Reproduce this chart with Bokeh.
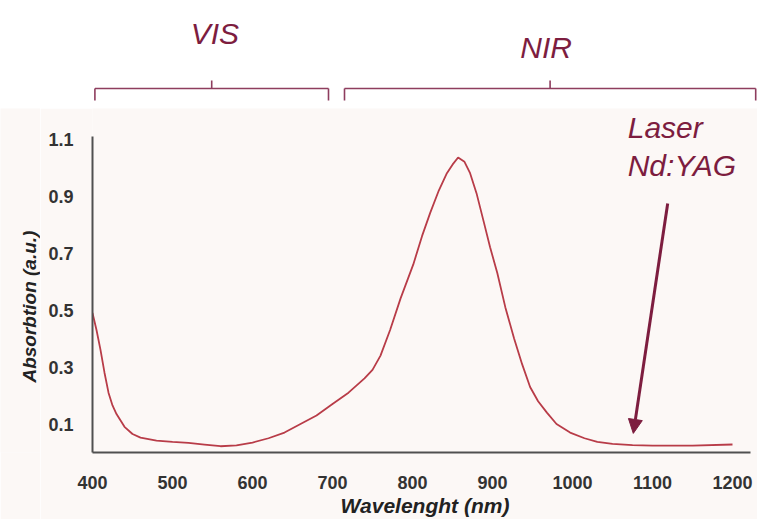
import math
from bokeh.plotting import figure
from bokeh.models import Range1d, FixedTicker, Arrow, NormalHead
from bokeh.layouts import column, row
from bokeh.core.properties import value
from bokeh.embed import file_html
from bokeh.resources import INLINE

# ---- data ----
wavelength = [400, 405, 410, 415, 420, 425, 430, 440, 450, 460, 480, 500, 520, 540, 560, 580, 600,
              620, 640, 660, 680, 700, 720, 740, 750, 760, 772, 785, 801, 812, 822, 833, 843, 850,
              857, 865, 872, 880, 889, 897, 906, 916, 927, 937, 947, 957, 968, 980, 997, 1015, 1031,
              1050, 1075, 1100, 1150, 1200]
absorption = [0.49, 0.43, 0.36, 0.28, 0.21, 0.165, 0.135, 0.09, 0.065, 0.052, 0.042, 0.037, 0.034,
              0.028, 0.022, 0.025, 0.035, 0.05, 0.07, 0.10, 0.13, 0.17, 0.21, 0.26, 0.29, 0.34, 0.43,
              0.54, 0.66, 0.76, 0.84, 0.92, 0.98, 1.01, 1.035, 1.02, 0.98, 0.91, 0.81, 0.72, 0.63,
              0.51, 0.40, 0.31, 0.23, 0.18, 0.14, 0.10, 0.07, 0.05, 0.037, 0.03, 0.026, 0.024, 0.024,
              0.028]
x_ticks = [400, 500, 600, 700, 800, 900, 1000, 1100, 1200]
y_ticks = [0.1, 0.3, 0.5, 0.7, 0.9, 1.1]
regions = ["VIS", "NIR"]
region_start = [403, 715]
region_end = [695, 1229]
laser_nm = 1076
laser_label = ["Laser", "Nd:YAG"]
x_title = "Wavelenght (nm)"
y_title = "Absorbtion (a.u.)"

FONT = "Liberation Sans"
MAROON = "#7d1d3f"
BRACKET = "#8e3d5e"
PINK = "#fcf8f6"

W = 757
H = 519
TOP_H = 108
MAIN_H = H - TOP_H
TITLE_W = 40
LEFT = 92
BOTTOM = 67
PX_PER_NM = 0.8
PX_PER_UNIT = 285.0

x_end = 400 + (W - LEFT) / PX_PER_NM
y_end = (MAIN_H - BOTTOM) / PX_PER_UNIT
x_range = Range1d(400, x_end)
y_range = Range1d(0, y_end)

# ---- top panel with region brackets ----
top = figure(width=W, height=TOP_H, output_backend="svg", toolbar_location=None,
             x_range=x_range, y_range=Range1d(TOP_H, 0),
             min_border_left=LEFT, min_border_right=0, min_border_top=0, min_border_bottom=0)
top.axis.visible = False
top.grid.visible = False
top.outline_line_color = None
top.background_fill_color = "white"
top.border_fill_color = "white"

yb = 88
mids = [(s + e) / 2 for s, e in zip(region_start, region_end)]
top.segment(x0=region_start, y0=[yb] * 2, x1=region_end, y1=[yb] * 2, line_color=BRACKET, line_width=1.6)
top.segment(x0=region_start, y0=[yb] * 2, x1=region_start, y1=[yb + 12] * 2, line_color=BRACKET, line_width=1.6)
top.segment(x0=region_end, y0=[yb] * 2, x1=region_end, y1=[yb + 12] * 2, line_color=BRACKET, line_width=1.6)
top.segment(x0=mids, y0=[yb] * 2, x1=mids, y1=[yb - 8] * 2, line_color=BRACKET, line_width=1.6)
top.text(x=[553, 967], y=[33, 47], text=regions, text_font=value(FONT), text_font_size="30px",
         text_font_style="italic", text_color=MAROON, text_align="center", text_baseline="middle")

# ---- narrow panel holding the y-axis title ----
side = figure(width=TITLE_W, height=MAIN_H, output_backend="svg", toolbar_location=None,
              x_range=Range1d(0, TITLE_W), y_range=y_range,
              min_border_left=0, min_border_right=0, min_border_top=0, min_border_bottom=BOTTOM)
side.axis.visible = False
side.grid.visible = False
side.outline_line_color = None
side.background_fill_color = PINK
side.border_fill_color = PINK
side.text(x=[29], y=[0.512], text=[y_title], angle=math.pi / 2, text_font=value(FONT),
          text_font_style="bold italic", text_font_size="19px", text_color="#222222",
          text_align="center", text_baseline="middle")

# ---- main chart ----
p = figure(width=W - TITLE_W, height=MAIN_H, output_backend="svg", toolbar_location=None,
           x_range=x_range, y_range=y_range,
           min_border_left=LEFT - TITLE_W, min_border_right=0, min_border_top=0,
           min_border_bottom=BOTTOM)
p.grid.visible = False
p.outline_line_color = None
p.background_fill_color = PINK
p.border_fill_color = PINK

p.line(wavelength, absorption, line_color="#b83c48", line_width=1.8)

arrow = Arrow(end=NormalHead(size=14, fill_color=MAROON, line_color=MAROON),
              x_start=1119, y_start=0.874, x_end=laser_nm, y_end=0.067,
              line_color=MAROON, line_width=3)
p.add_layout(arrow)
p.text(x=[1069, 1069], y=[1.14, 1.007], text=laser_label, text_font=value(FONT),
       text_font_size="30px", text_font_style="italic", text_color=MAROON,
       text_align="left", text_baseline="alphabetic")

for ax in (p.xaxis[0], p.yaxis[0]):
    ax.axis_line_color = "#505050"
    ax.axis_line_width = 2
    ax.major_tick_line_color = None
    ax.minor_tick_line_color = None
    ax.major_label_text_font = FONT
    ax.major_label_text_font_style = "bold"
    ax.major_label_text_font_size = "18px"
    ax.major_label_text_color = "#333333"
    ax.axis_label_text_font = FONT
    ax.axis_label_text_font_style = "bold italic"
    ax.axis_label_text_color = "#222222"

p.xaxis.ticker = FixedTicker(ticks=x_ticks)
p.xaxis.bounds = (400, 1222)
p.xaxis.major_label_standoff = 17
p.xaxis.axis_label = x_title
p.xaxis.axis_label_text_font_size = "21px"
p.xaxis.axis_label_standoff = 2

p.yaxis.ticker = FixedTicker(ticks=y_ticks)
p.yaxis.bounds = (0, 1.11)
p.yaxis.major_label_standoff = 13

layout = column(top, row(side, p, spacing=0), spacing=0)
open("out.html", "w").write(file_html(layout, INLINE))
